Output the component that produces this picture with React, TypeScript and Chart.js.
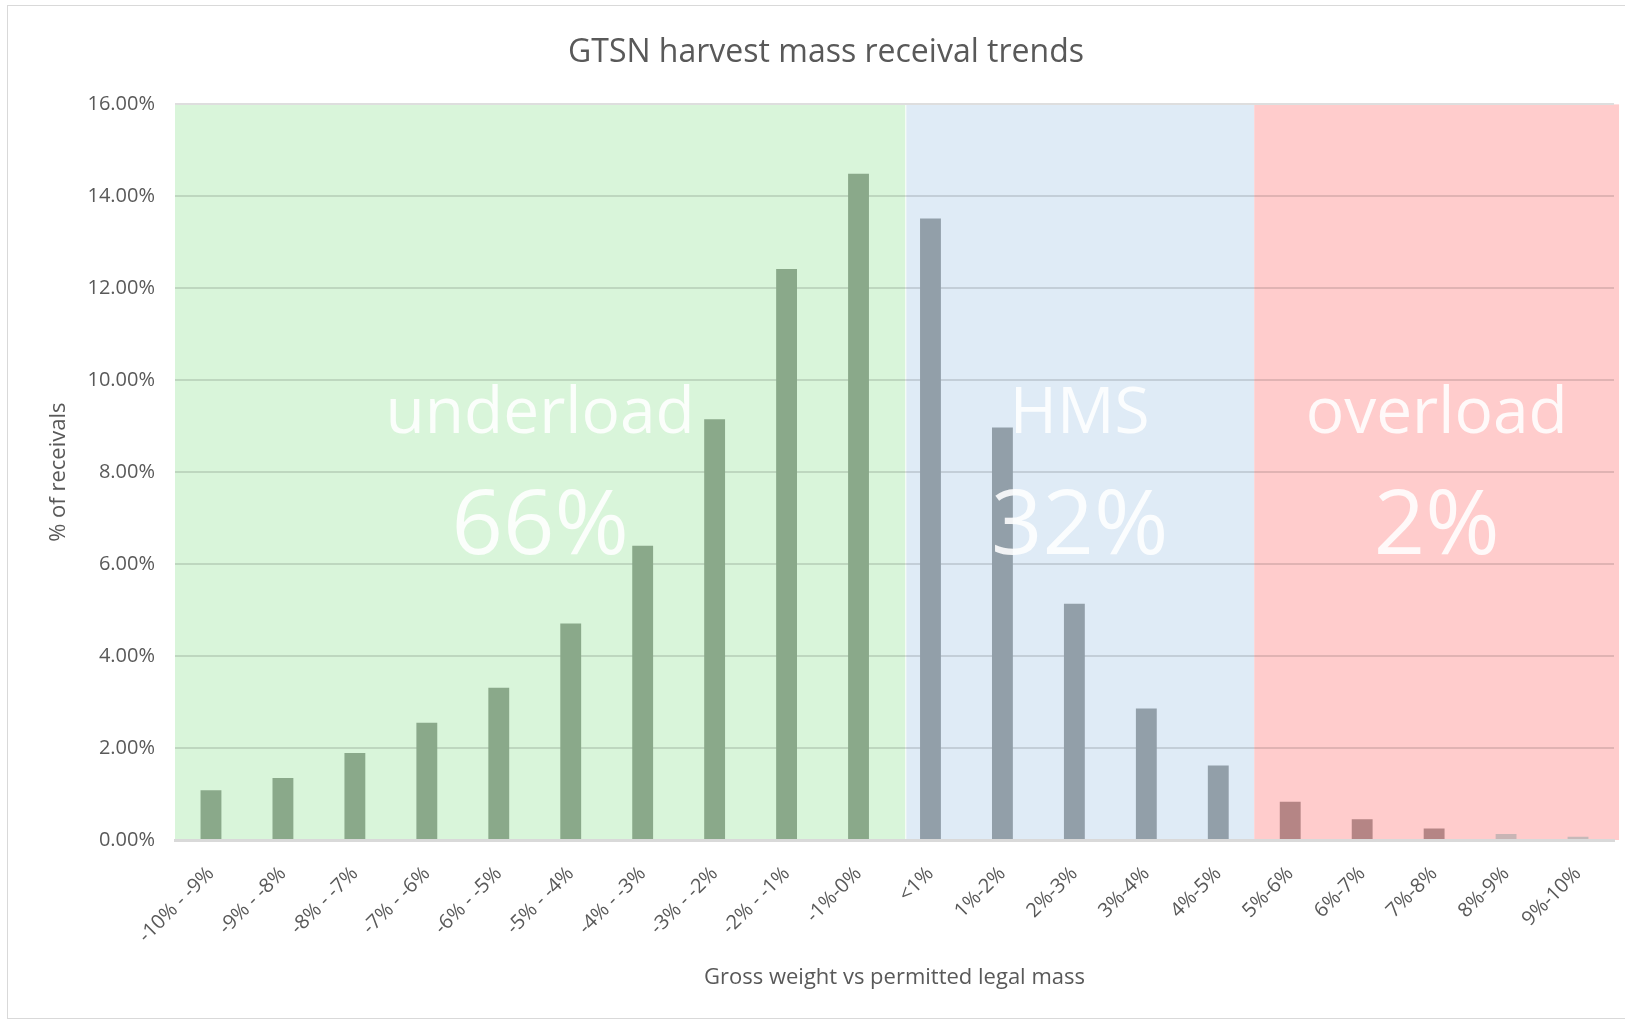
import React, { useEffect, useRef } from "react";
import { Chart, registerables } from "chart.js";

Chart.register(...registerables);

// ---------- data ----------
const TITLE = "GTSN harvest mass receival trends";
const X_TITLE = "Gross weight vs permitted legal mass";
const Y_TITLE = "% of receivals";

const CATEGORIES = [
  "-10% - -9%", "-9% - -8%", "-8% - -7%", "-7% - -6%", "-6% - -5%",
  "-5% - -4%", "-4% - -3%", "-3% - -2%", "-2% - -1%", "-1%-0%",
  "<1%", "1%-2%", "2%-3%", "3%-4%", "4%-5%",
  "5%-6%", "6%-7%", "7%-8%", "8%-9%", "9%-10%",
];

const VALUES = [
  1.08, 1.35, 1.89, 2.55, 3.31,
  4.71, 6.40, 9.15, 12.42, 14.49,
  13.52, 8.97, 5.14, 2.86, 1.62,
  0.83, 0.45, 0.25, 0.13, 0.07,
];

const Y_MIN = 0;
const Y_MAX = 16;
const Y_STEP = 2;

const REGION_NAMES = ["underload", "HMS", "overload"];
const REGION_SHARES = ["66%", "32%", "2%"];
const REGION_SIZES = [10, 5, 5];

// ---------- style ----------
const FONT = "'Open Sans', 'DejaVu Sans', sans-serif";
const TEXT_COLOR = "#595959";
const REGION_BG = ["#d9f5da", "#dfebf6", "#ffcccc"];
const REGION_BAR = ["#8aa98a", "#929fa9", "#b58585"];
const FADED_BAR = ["#c9b5b5", "#c6b9b9"]; // last two overload bars
// band edges in category units (start of first band, then each band end)
const BAND_EDGES = [-0.5, 9.65, 14.5, 19.57];

function barColors(): string[] {
  const out: string[] = [];
  REGION_SIZES.forEach((n, r) => {
    for (let i = 0; i < n; i++) out.push(REGION_BAR[r]);
  });
  out[out.length - 2] = FADED_BAR[0];
  out[out.length - 1] = FADED_BAR[1];
  return out;
}

const bandsPlugin = {
  id: "bands",
  beforeDraw(chart: any) {
    const { ctx, chartArea, scales } = chart;
    const x = scales.x;
    const step = x.getPixelForValue(1) - x.getPixelForValue(0);
    const px = (v: number) => x.getPixelForValue(0) + v * step;
    ctx.save();
    for (let r = 0; r < REGION_SIZES.length; r++) {
      const l = px(BAND_EDGES[r]) + (r === 1 ? 1 : 0);
      const rr = px(BAND_EDGES[r + 1]);
      ctx.fillStyle = REGION_BG[r];
      ctx.fillRect(l, chartArea.top, rr - l, chartArea.bottom - chartArea.top);
    }
    ctx.restore();
  },
};

const overlayTextPlugin = {
  id: "overlayText",
  afterDatasetsDraw(chart: any) {
    const { ctx, chartArea, scales } = chart;
    const x = scales.x;
    const step = x.getPixelForValue(1) - x.getPixelForValue(0);
    const px = (v: number) => x.getPixelForValue(0) + v * step;
    const h = chartArea.bottom - chartArea.top;
    ctx.save();
    ctx.textAlign = "center";
    ctx.textBaseline = "alphabetic";
    ctx.fillStyle = "rgba(255,255,255,0.88)";
    for (let r = 0; r < REGION_NAMES.length; r++) {
      const cx = (px(BAND_EDGES[r]) + px(BAND_EDGES[r + 1])) / 2;
      ctx.font = `64px ${FONT}`;
      ctx.fillText(REGION_NAMES[r], cx, chartArea.top + h * 0.447);
      ctx.font = `90px ${FONT}`;
      ctx.fillText(REGION_SHARES[r], cx, chartArea.top + h * 0.611);
    }
    ctx.restore();
  },
};

export default function App() {
  const ref = useRef<HTMLCanvasElement | null>(null);

  useEffect(() => {
    if (!ref.current) return;
    const chart = new Chart(ref.current, {
      type: "bar",
      data: {
        labels: CATEGORIES,
        datasets: [
          {
            label: Y_TITLE,
            data: VALUES,
            backgroundColor: barColors(),
            borderWidth: 0,
            barPercentage: 0.29,
            categoryPercentage: 1,
          },
        ],
      },
      options: {
        animation: false,
        responsive: false,
        maintainAspectRatio: false,
        layout: { padding: { left: 38, right: 11, top: 0, bottom: 0 } },
        plugins: {
          legend: { display: false },
          tooltip: { enabled: false },
          title: {
            display: true,
            text: TITLE,
            color: TEXT_COLOR,
            font: { family: FONT, size: 32, weight: "normal" },
            padding: { top: 34, bottom: 32 },
          },
        },
        scales: {
          x: {
            grid: { display: false, drawTicks: false },
            border: { display: true, color: "#d9d9d9", width: 3 },
            ticks: {
              color: TEXT_COLOR,
              font: { family: FONT, size: 20 },
              minRotation: 45,
              maxRotation: 45,
              autoSkip: false,
              padding: 22,
            },
            title: {
              display: true,
              text: X_TITLE,
              color: TEXT_COLOR,
              font: { family: FONT, size: 22 },
              padding: { top: 0, bottom: 30 },
            },
            afterFit: (scale: any) => {
              scale.height = 181;
            },
          },
          y: {
            min: Y_MIN,
            max: Y_MAX,
            border: { display: false },
            grid: {
              drawTicks: false,
              lineWidth: 2,
              color: (ctx: any) =>
                ctx.tick && ctx.tick.value === Y_MAX
                  ? "#dedede"
                  : ctx.tick && ctx.tick.value === Y_MIN
                  ? "rgba(0,0,0,0)"
                  : "rgba(0,0,0,0.12)",
            },
            ticks: {
              stepSize: Y_STEP,
              color: TEXT_COLOR,
              font: { family: FONT, size: 20 },
              padding: 20,
              callback: (v: any) => Number(v).toFixed(2) + "%",
            },
            title: {
              display: true,
              text: Y_TITLE,
              color: TEXT_COLOR,
              font: { family: FONT, size: 22 },
              padding: { top: 8, bottom: 0 },
            },
            afterFit: (scale: any) => {
              scale.width = 137;
            },
          },
        },
      },
      plugins: [bandsPlugin, overlayTextPlugin],
    });
    return () => chart.destroy();
  }, []);

  return (
    <div
      style={{
        position: "fixed",
        left: 0,
        top: 0,
        width: 1625,
        height: 1021,
        background: "#ffffff",
        overflow: "hidden",
      }}
    >
      <canvas
        ref={ref}
        width={1625}
        height={1021}
        style={{ position: "absolute", left: 0, top: 0, width: 1625, height: 1021 }}
      />
      <div
        style={{
          position: "absolute",
          left: 7,
          top: 5,
          width: 1640,
          height: 1012,
          border: "1px solid #d9d9d9",
          pointerEvents: "none",
        }}
      />
    </div>
  );
}
